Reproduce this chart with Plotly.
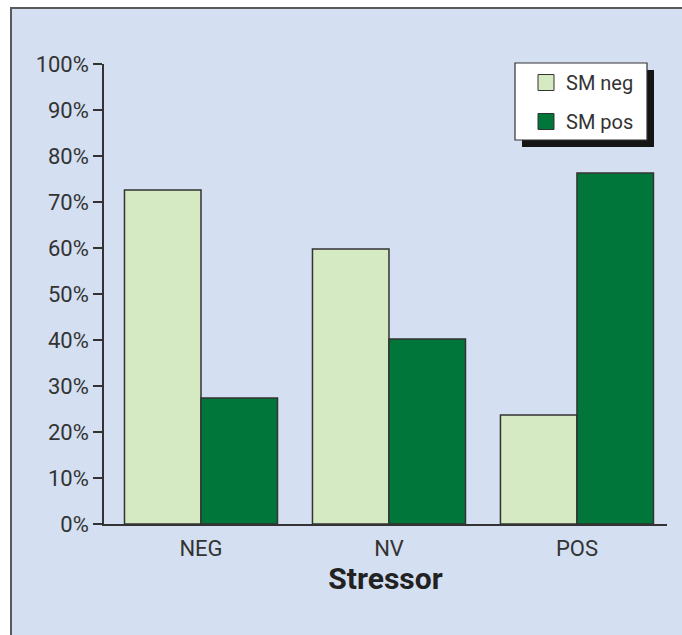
import plotly.graph_objects as go

categories = ["NEG", "NV", "POS"]
sm_neg = [72.6, 59.8, 23.7]
sm_pos = [27.4, 40.2, 76.3]
series_names = ["SM neg", "SM pos"]
series_colors = ["#d5eac3", "#00763b"]
y_ticks = [0, 10, 20, 30, 40, 50, 60, 70, 80, 90, 100]
y_tick_labels = [f"{v}%" for v in y_ticks]

W, H = 682, 635
L, R, T, B = 104, 15, 64, 111
pw, ph = W - L - R, H - T - B

def px(x):
    return (x - L) / pw

def py(y):
    return (H - B - y) / ph

font = "Roboto, 'Liberation Sans', Arial, sans-serif"
edge = "#333333"

fig = go.Figure()
for name, vals, col in zip(series_names, [sm_neg, sm_pos], series_colors):
    fig.add_trace(go.Bar(x=categories, y=vals, name=name, showlegend=False,
                         marker=dict(color=col, line=dict(color=edge, width=1.5))))
# legend entries (square swatches)
for i, (name, col) in enumerate(zip(series_names, series_colors)):
    fig.add_trace(go.Scatter(x=[None], y=[None], mode="markers", name=name,
                             legendgroup=f"g{i}",
                             marker=dict(symbol="square", size=18, color=col,
                                         line=dict(color=edge, width=1))))

shapes = [
    dict(type="rect", xref="paper", yref="paper", layer="below",
         x0=px(11), x1=px(720), y0=py(8), y1=py(680),
         fillcolor="#d4dff1", line=dict(color="#5a5a5a", width=2)),
    dict(type="rect", xref="paper", yref="paper", layer="above",
         x0=px(522), x1=px(654), y0=py(147), y1=py(70),
         fillcolor="#151515", line=dict(width=0)),
    dict(type="rect", xref="paper", yref="paper", layer="above",
         x0=px(515), x1=px(647), y0=py(140), y1=py(63),
         fillcolor="white", line=dict(color=edge, width=1.2)),
]

fig.update_layout(
    width=W, height=H,
    margin=dict(l=L, r=R, t=T, b=B, pad=0),
    paper_bgcolor="white", plot_bgcolor="rgba(0,0,0,0)",
    barmode="group", bargap=0.186, bargroupgap=0,
    font=dict(family=font, size=22, color="#333333"),
    showlegend=True,
    legend=dict(x=px(526), y=py(63), xanchor="left", yanchor="top",
                bgcolor="rgba(0,0,0,0)", borderwidth=0,
                font=dict(size=20, color="#333333"),
                traceorder="grouped", tracegroupgap=10, itemsizing="trace"),
    shapes=shapes,
    xaxis=dict(range=[-0.516, 2.479], showline=True, linecolor=edge, linewidth=1.5,
               ticks="outside", ticklen=4, tickcolor="rgba(0,0,0,0)",
               showgrid=False, tickfont=dict(size=22),
               title=dict(text="<b>Stressor</b>", font=dict(size=30, color="#222222"), standoff=5)),
    yaxis=dict(range=[0, 100], tickvals=y_ticks, ticktext=y_tick_labels,
               showline=True, linecolor=edge, linewidth=1.5,
               ticks="outside", ticklen=9, tickcolor=edge, tickwidth=1.5,
               showgrid=False, zeroline=False, tickfont=dict(size=22)),
)

fig.write_html("out.html", config={"displayModeBar": False},
               post_script="document.body.style.margin='0px';document.body.style.overflow='hidden';")
